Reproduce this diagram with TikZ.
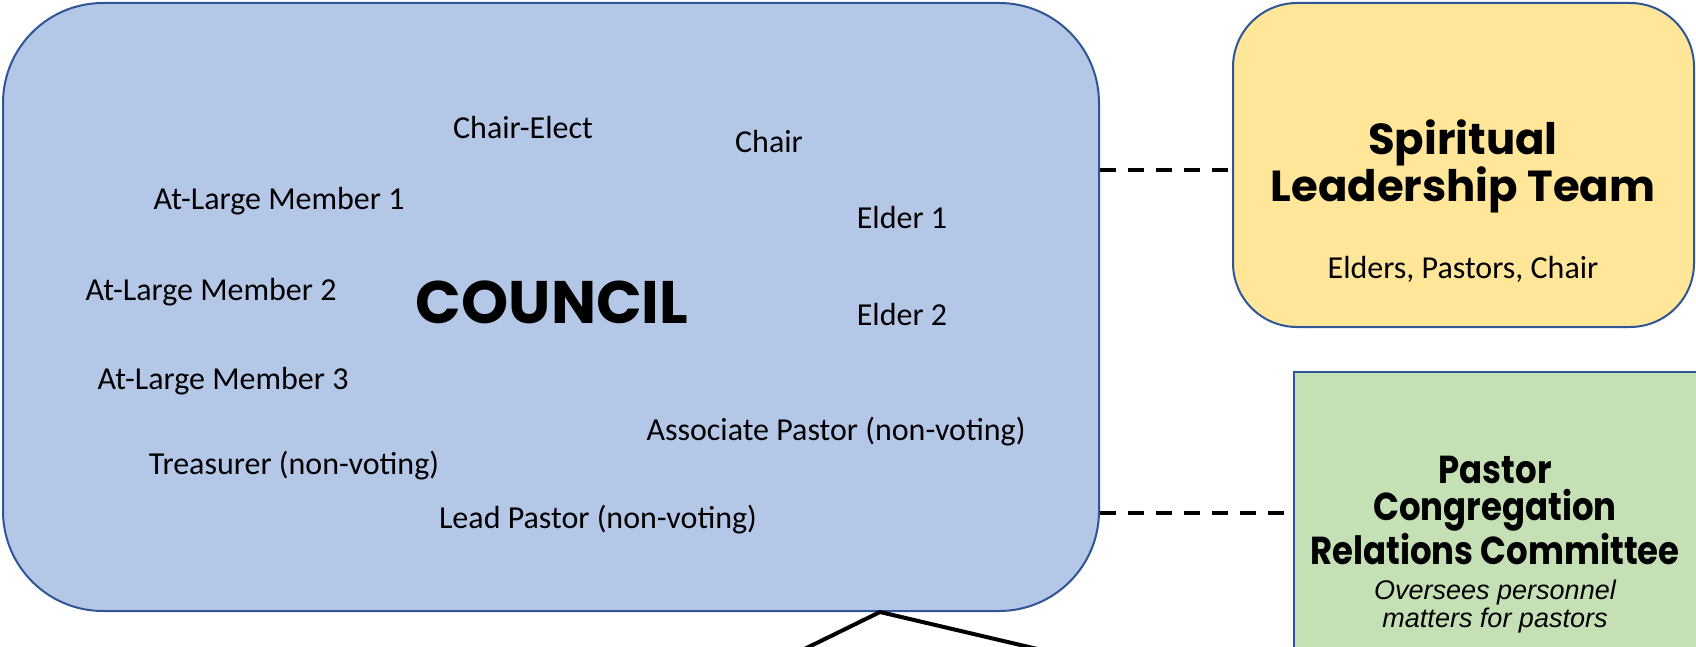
\documentclass[tikz,border=0pt]{standalone}
\usepackage{fontspec}
\setmainfont{Carlito}
\newfontfamily\headfont{Poppins}
\newfontfamily\narrowhead{Poppins}[FakeStretch=0.87]
\newfontfamily\notefont{Liberation Sans}

\definecolor{councilblue}{HTML}{B4C7E7}
\definecolor{edgeblue}{HTML}{2F5597}
\definecolor{sltyellow}{HTML}{FFE699}
\definecolor{pcrcgreen}{HTML}{C5E0B4}

\begin{document}
\begin{tikzpicture}[x=0.5pt,y=-0.5pt,
    groupbox/.style={draw=edgeblue,line width=1pt,inner sep=0pt},
    member/.style={font=\fontsize{16}{19}\selectfont,anchor=base},
    heading/.style={font=\headfont\bfseries,align=center},
    dashlink/.style={line width=1.75pt,dash pattern=on 8pt off 6pt},
    leg/.style={line width=2pt}]
    \useasboundingbox (0,0) rectangle (1696,647);
    \clip (0,0) rectangle (1696,647);

    % group boxes
    \node[groupbox,fill=councilblue,rounded corners=50pt,minimum width=548pt,minimum height=304pt] (council) at (551,307) {};
    \node[groupbox,fill=sltyellow,rounded corners=32pt,minimum width=230.5pt,minimum height=162pt] (slt) at (1463.5,165) {};
    \node[groupbox,fill=pcrcgreen,minimum width=201.5pt,minimum height=141pt] (pcrc) at (1495.5,513) {};

    % council members
    \node[member] (chairelect) at (523,139) {Chair-Elect};
    \node[member] (chair) at (769,152) {Chair};
    \node[member] (atlarge1) at (279,209) {At-Large Member 1};
    \node[member] (elder1) at (902,228) {Elder 1};
    \node[member] (atlarge2) at (211,300) {At-Large Member 2};
    \node[member] (elder2) at (902,325) {Elder 2};
    \node[member] (atlarge3) at (223,389) {At-Large Member 3};
    \node[member] (assocpastor) at (836,440) {Associate Pastor (non-voting)};
    \node[member] (treasurer) at (294,474) {Treasurer (non-voting)};
    \node[member] (leadpastor) at (598,528) {Lead Pastor (non-voting)};
    \node[heading,font=\headfont\bfseries\fontsize{30}{36}\selectfont,anchor=base] (counciltitle) at (552,323) {COUNCIL};

    % spiritual leadership team
    \node[heading,font=\headfont\bfseries\fontsize{21.7}{23.5}\selectfont] (slttitle) at (1463,166) {Spiritual\\Leadership Team};
    \node[member] (sltnote) at (1463,278) {Elders, Pastors, Chair};

    % pastor congregation relations committee
    \node[heading,font=\narrowhead\bfseries\fontsize{19.5}{18.5}\selectfont] (pcrctitle) at (1495,510) {Pastor\\Congregation\\Relations Committee};
    \node[font=\notefont\itshape\fontsize{13.5}{14}\selectfont,align=center] (pcrcnote) at (1495,607) {Oversees personnel\\matters for pastors};

    % links
    \coordinate (sltin) at ([yshift=-2.5pt]slt.west);
    \draw[dashlink] (council.east |- sltin) -- (sltin);
    \draw[dashlink] (council.east |- pcrc.west) -- (pcrc.west);

    % legs down to the lower level
    \coordinate (fork) at (council.south -| 880,0);
    \coordinate (leftleg) at (780,661);
    \coordinate (rightleg) at (1080,659);
    \draw[leg] (leftleg) -- (fork) -- (rightleg);
\end{tikzpicture}
\end{document}
